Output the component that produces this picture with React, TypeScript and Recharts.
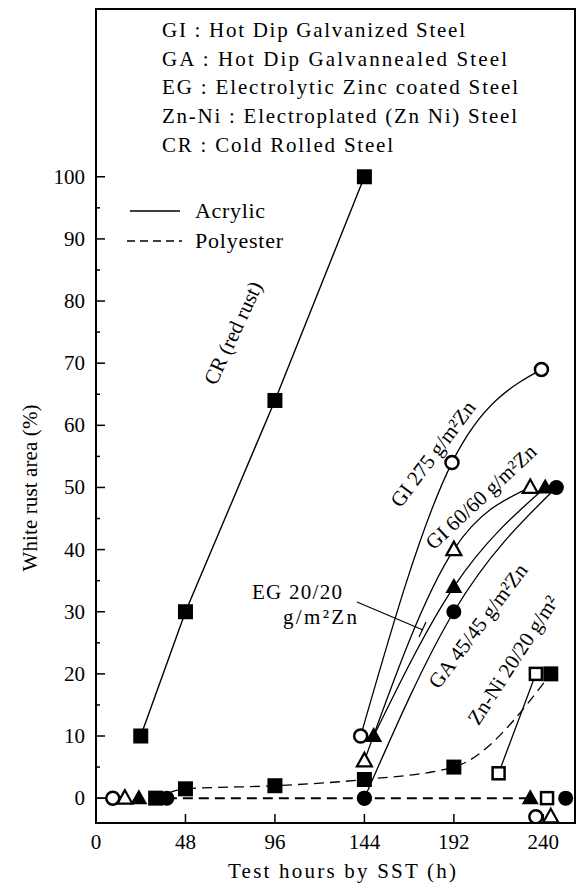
import React from "react";
import { LineChart, Line, XAxis, YAxis, ReferenceArea } from "recharts";

// axis ticks
const xTicks = [0, 48, 96, 144, 192, 240];
const yTicks = [0, 5, 10, 15, 20, 25, 30, 35, 40, 45, 50, 55, 60, 65, 70, 75, 80, 85, 90, 95, 100];

// acrylic coating (solid lines)
const crHours = [24, 48, 96, 144];
const crAcrylic = [10, 30, 64, 100];
const gi275Hours = [142, 191, 239];
const gi275Acrylic = [10, 54, 69];
const gi60Hours = [144, 192, 233];
const gi60Acrylic = [6, 40, 50];
const egHours = [149, 192, 241];
const egAcrylic = [10, 34, 50];
const gaHours = [144, 192, 247];
const gaAcrylic = [0, 30, 50];
const znNiHours = [216, 236];
const znNiAcrylic = [4, 20];

// polyester coating (dashed lines)
const crPolyHours = [32, 48, 96, 144, 192, 244];
const crPolyester = [0, 1.5, 2, 3, 5, 20];
const baseHours = [38, 233];
const baseValues = [0, 0];
const startHours = [0, 9];
const startValues = [0, 0];

// markers lying on the zero line
const gi275ZeroHours = [9, 236];
const gi275Zero = [0, -3];
const gi60ZeroHours = [15.5, 244];
const gi60Zero = [0, -3];
const egZeroHours = [23, 233];
const egZero = [0, 0];
const gaZeroHours = [38, 144, 252];
const gaZero = [0, 0, 0];
const znNiZeroHours = [242];
const znNiZero = [0];

const FONT = "'Liberation Serif', 'Times New Roman', serif";
const PLOT_LEFT = 96;
const PLOT_BOTTOM = 823;

const pts = (hours: number[], values: number[]) => hours.map((h, i) => ({ h, v: values[i] }));

type Kind = "square" | "openSquare" | "circle" | "openCircle" | "triangle" | "openTriangle";

function Marker({ cx, cy, kind }: { cx?: number; cy?: number; kind: Kind }) {
  if (cx == null || cy == null) return null;
  switch (kind) {
    case "square":
      return <rect x={cx - 7.5} y={cy - 7.5} width={15} height={15} fill="#000" />;
    case "openSquare":
      return <rect x={cx - 6} y={cy - 6} width={12} height={12} fill="#fff" stroke="#000" strokeWidth={2.5} />;
    case "circle":
      return <circle cx={cx} cy={cy} r={7.5} fill="#000" />;
    case "openCircle":
      return <circle cx={cx} cy={cy} r={6.5} fill="#fff" stroke="#000" strokeWidth={2.5} />;
    case "triangle":
      return <polygon points={`${cx},${cy - 9} ${cx - 8.5},${cy + 6} ${cx + 8.5},${cy + 6}`} fill="#000" />;
    default:
      return (
        <polygon
          points={`${cx},${cy - 8} ${cx - 7.5},${cy + 5.5} ${cx + 7.5},${cy + 5.5}`}
          fill="#fff"
          stroke="#000"
          strokeWidth={2.2}
        />
      );
  }
}

const dotOf = (name: string, kind: Kind) => (p: any) => (
  <Marker key={`${name}-${p.index}`} cx={p.cx} cy={p.cy} kind={kind} />
);

function YTick(props: any) {
  const { y, payload } = props;
  const major = payload.value % 10 === 0;
  return (
    <g>
      <line x1={PLOT_LEFT} x2={PLOT_LEFT + (major ? 9 : 4)} y1={y} y2={y} stroke="#000" strokeWidth={1.5} />
      {major && (
        <text x={85} y={y + 7} textAnchor="end" fontFamily={FONT} fontSize={21} fill="#000">
          {payload.value}
        </text>
      )}
    </g>
  );
}

function XTick(props: any) {
  const { x, payload } = props;
  return (
    <g>
      <line x1={x} x2={x} y1={PLOT_BOTTOM} y2={PLOT_BOTTOM - 9} stroke="#000" strokeWidth={1.5} />
      <text x={x} y={849} textAnchor="middle" fontFamily={FONT} fontSize={21} fill="#000">
        {payload.value}
      </text>
    </g>
  );
}

function RotLabel({ x, y, angle, children }: { x: number; y: number; angle: number; children: React.ReactNode }) {
  return (
    <text
      x={x}
      y={y}
      transform={`rotate(${angle} ${x} ${y})`}
      textAnchor="middle"
      dominantBaseline="central"
      fontFamily={FONT}
      fontSize={21}
      fill="#000"
    >
      {children}
    </text>
  );
}

export default function App() {
  const legendLines = [
    { t: "GI : Hot Dip Galvanized Steel", y: 37, w: 303 },
    { t: "GA : Hot Dip Galvannealed Steel", y: 66, w: 345 },
    { t: "EG : Electrolytic Zinc coated Steel", y: 94, w: 356 },
    { t: "Zn-Ni : Electroplated (Zn Ni) Steel", y: 123, w: 355 },
    { t: "CR : Cold Rolled Steel", y: 152, w: 231 },
  ];
  return (
    <div style={{ position: "absolute", left: 0, top: 0, width: 580, height: 886, background: "#fff" }}>
      <LineChart width={580} height={886} margin={{ top: 9, right: 5, bottom: 33, left: 36 }}>
        <XAxis
          type="number"
          dataKey="h"
          domain={[0, 257]}
          ticks={xTicks}
          allowDataOverflow
          height={30}
          axisLine={{ stroke: "#000", strokeWidth: 2 }}
          tickLine={false}
          tick={<XTick />}
        />
        <YAxis
          type="number"
          dataKey="v"
          domain={[-4, 127]}
          ticks={yTicks}
          allowDataOverflow
          width={60}
          axisLine={{ stroke: "#000", strokeWidth: 2 }}
          tickLine={false}
          tick={<YTick />}
          interval={0}
        />
        <ReferenceArea x1={0} x2={257} y1={-4} y2={127} fill="none" stroke="#000" strokeWidth={2} />

        {/* polyester */}
        <Line data={pts(startHours, startValues)} dataKey="v" type="linear" stroke="#000" strokeWidth={1.3} dot={false} isAnimationActive={false} />
        <Line data={pts(baseHours, baseValues)} dataKey="v" type="linear" stroke="#000" strokeWidth={2} strokeDasharray="10 6" dot={false} isAnimationActive={false} />
        <Line data={pts(crPolyHours, crPolyester)} dataKey="v" type="monotone" stroke="#000" strokeWidth={1.3} strokeDasharray="10 6" dot={dotOf("crp", "square")} isAnimationActive={false} />

        {/* acrylic */}
        <Line data={pts(crHours, crAcrylic)} dataKey="v" type="linear" stroke="#000" strokeWidth={1.4} dot={dotOf("cr", "square")} isAnimationActive={false} />
        <Line data={pts(gaHours, gaAcrylic)} dataKey="v" type="monotone" stroke="#000" strokeWidth={1.3} dot={dotOf("ga", "circle")} isAnimationActive={false} />
        <Line data={pts(egHours, egAcrylic)} dataKey="v" type="monotone" stroke="#000" strokeWidth={1.3} dot={dotOf("eg", "triangle")} isAnimationActive={false} />
        <Line data={pts(gi60Hours, gi60Acrylic)} dataKey="v" type="monotone" stroke="#000" strokeWidth={1.3} dot={dotOf("gi60", "openTriangle")} isAnimationActive={false} />
        <Line data={pts(gi275Hours, gi275Acrylic)} dataKey="v" type="monotone" stroke="#000" strokeWidth={1.3} dot={dotOf("gi275", "openCircle")} isAnimationActive={false} />
        <Line data={pts(znNiHours, znNiAcrylic)} dataKey="v" type="linear" stroke="#000" strokeWidth={1.3} dot={dotOf("znni", "openSquare")} isAnimationActive={false} />

        {/* zero-level markers */}
        <Line data={pts(gaZeroHours, gaZero)} dataKey="v" stroke="none" dot={dotOf("ga0", "circle")} isAnimationActive={false} />
        <Line data={pts(egZeroHours, egZero)} dataKey="v" stroke="none" dot={dotOf("eg0", "triangle")} isAnimationActive={false} />
        <Line data={pts(gi60ZeroHours, gi60Zero)} dataKey="v" stroke="none" dot={dotOf("gi600", "openTriangle")} isAnimationActive={false} />
        <Line data={pts(gi275ZeroHours, gi275Zero)} dataKey="v" stroke="none" dot={dotOf("gi2750", "openCircle")} isAnimationActive={false} />
        <Line data={pts(znNiZeroHours, znNiZero)} dataKey="v" stroke="none" dot={dotOf("znni0", "openSquare")} isAnimationActive={false} />
      </LineChart>

      <svg width={580} height={886} style={{ position: "absolute", left: 0, top: 0, pointerEvents: "none" }}>
        {legendLines.map((l) => (
          <text key={l.t} x={162} y={l.y} fontFamily={FONT} fontSize={21} textLength={l.w} lengthAdjust="spacing" fill="#000">
            {l.t}
          </text>
        ))}
        <line x1={130} x2={180} y1={211} y2={211} stroke="#000" strokeWidth={1.3} />
        <text x={195} y={218} fontFamily={FONT} fontSize={22} textLength={70} fill="#000">Acrylic</text>
        <line x1={127} x2={182} y1={241} y2={241} stroke="#000" strokeWidth={1.3} strokeDasharray="8 5" />
        <text x={195} y={248} fontFamily={FONT} fontSize={22} textLength={88} fill="#000">Polyester</text>

        <text
          x={30}
          y={488}
          transform="rotate(-90 30 488)"
          textAnchor="middle"
          dominantBaseline="central"
          fontFamily={FONT}
          fontSize={21}
          textLength={167}
          fill="#000"
        >
          White rust area (%)
        </text>
        <text x={342} y={878} textAnchor="middle" fontFamily={FONT} fontSize={21} textLength={228} fill="#000">
          Test hours by SST (h)
        </text>

        <RotLabel x={233} y={333} angle={-65}>CR (red rust)</RotLabel>
        <RotLabel x={433} y={454} angle={-53}>GI 275 g/m²Zn</RotLabel>
        <RotLabel x={481} y={497} angle={-43}>GI 60/60 g/m²Zn</RotLabel>
        <RotLabel x={478} y={626} angle={-53}>GA 45/45 g/m²Zn</RotLabel>
        <RotLabel x={513} y={660} angle={-57}>Zn-Ni 20/20 g/m²</RotLabel>

        <text x={297} y={599} textAnchor="middle" fontFamily={FONT} fontSize={21} textLength={90} fill="#000">EG 20/20</text>
        <text x={320} y={624} textAnchor="middle" fontFamily={FONT} fontSize={21} textLength={74} fill="#000">g/m²Zn</text>
        <line x1={357} y1={602} x2={423} y2={630} stroke="#000" strokeWidth={1.2} />
        <line x1={419} y1={637} x2={426} y2={622} stroke="#000" strokeWidth={1.2} />
      </svg>
    </div>
  );
}
